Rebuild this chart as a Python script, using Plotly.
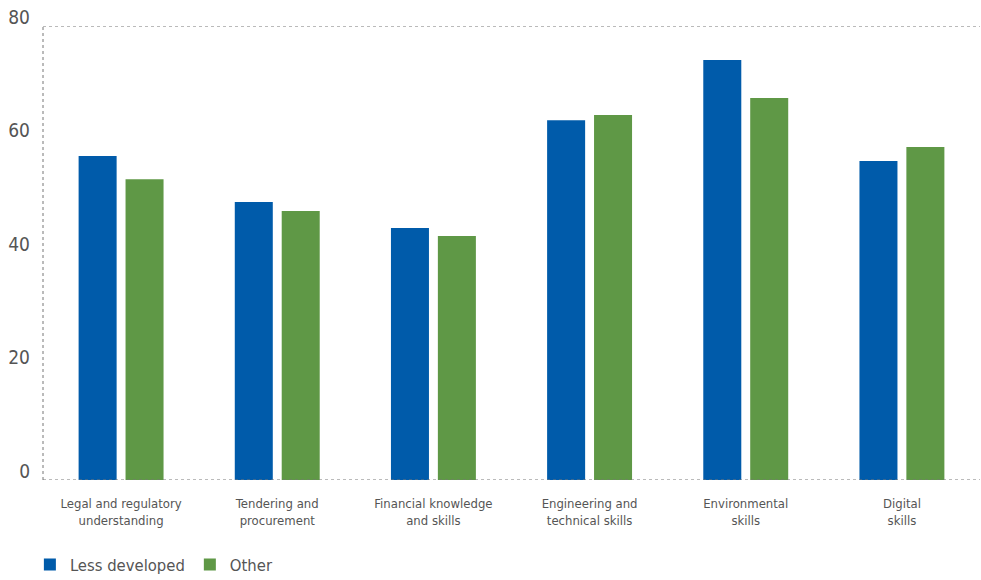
import plotly.graph_objects as go

categories = ["Legal and regulatory<br>understanding", "Tendering and<br>procurement",
              "Financial knowledge<br>and skills", "Engineering and<br>technical skills",
              "Environmental<br>skills", "Digital<br>skills"]
less_developed = [57.1, 49.0, 44.4, 63.4, 74.0, 56.2]
other = [53.0, 47.4, 43.0, 64.3, 67.3, 58.7]
y_ticks = [0, 20, 40, 60, 80]

FONT = "DejaVu Sans Condensed, Liberation Sans Narrow, sans-serif"
GREY = "#555555"

fig = go.Figure()
fig.add_trace(go.Bar(x=categories, y=less_developed, name="Less developed",
                     marker=dict(color="#005BAA", line=dict(width=0))))
fig.add_trace(go.Bar(x=categories, y=other, name="Other",
                     marker=dict(color="#5F9846", line=dict(width=0))))

dot = dict(color="#777777", width=1, dash="dot")
fig.add_shape(type="line", xref="paper", yref="y", x0=0, x1=1, y0=0, y1=0, line=dot)
fig.add_shape(type="line", xref="paper", yref="y", x0=0, x1=1, y0=80, y1=80, line=dot)
fig.add_shape(type="line", xref="paper", yref="y", x0=0, x1=0, y0=0, y1=80, line=dot)

fig.update_layout(
    width=981, height=580,
    margin=dict(l=43, r=1, t=26, b=100, autoexpand=False),
    barmode="group", bargap=0.399, bargroupgap=0.19,
    plot_bgcolor="white", paper_bgcolor="white",
    font=dict(family=FONT, color=GREY),
    showlegend=True,
    legend=dict(orientation="h", x=-0.014, xanchor="left", y=-0.148, yanchor="top",
                font=dict(size=16.5, color=GREY), itemwidth=30, traceorder="normal"),
    xaxis=dict(showgrid=False, showline=False, ticks="", tickfont=dict(size=13, color=GREY),
               tickangle=0, automargin=False, ticklabelstandoff=14),
    yaxis=dict(range=[0, 80], tickvals=y_ticks, showgrid=False, zeroline=False,
               showline=False, ticks="", tickfont=dict(size=19, color=GREY),
               ticklabelshift=-9, ticklabelstandoff=12, automargin=False,
               ticklabeloverflow="allow"),
)

fig.write_html("out.html", config={"displayModeBar": False},
               post_script="document.body.style.margin='0';")
